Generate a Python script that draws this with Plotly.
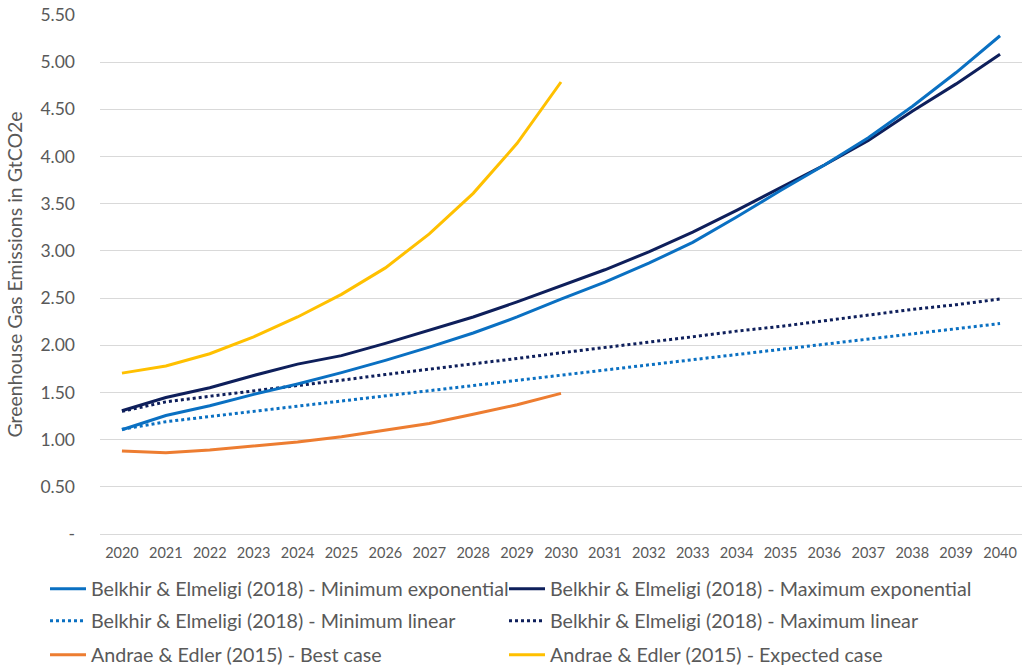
import plotly.graph_objects as go

years = [str(y) for y in range(2020, 2041)]
years_to_2030 = years[:11]

min_exponential = [1.105, 1.256, 1.36, 1.48, 1.59, 1.71, 1.84, 1.98, 2.13, 2.30, 2.49,
                   2.67, 2.87, 3.09, 3.36, 3.64, 3.91, 4.20, 4.53, 4.89, 5.28]
max_exponential = [1.306, 1.446, 1.55, 1.68, 1.80, 1.89, 2.02, 2.16, 2.30, 2.46, 2.63,
                   2.80, 2.99, 3.20, 3.43, 3.67, 3.91, 4.17, 4.48, 4.77, 5.085]
min_linear = [1.11, 1.19, 1.245, 1.30, 1.355, 1.41, 1.465, 1.52, 1.57, 1.63, 1.68,
              1.74, 1.79, 1.85, 1.90, 1.96, 2.01, 2.07, 2.12, 2.18, 2.23]
max_linear = [1.30, 1.40, 1.46, 1.515, 1.57, 1.63, 1.69, 1.745, 1.80, 1.86, 1.92,
              1.975, 2.03, 2.09, 2.15, 2.20, 2.26, 2.32, 2.38, 2.43, 2.49]
best_case = [0.88, 0.86, 0.89, 0.93, 0.976, 1.03, 1.10, 1.17, 1.27, 1.37, 1.49]
expected_case = [1.705, 1.78, 1.91, 2.09, 2.30, 2.54, 2.82, 3.18, 3.61, 4.14, 4.79]

y_tick_vals = [0, 0.5, 1, 1.5, 2, 2.5, 3, 3.5, 4, 4.5, 5, 5.5]
y_tick_text = ["-", "0.50", "1.00", "1.50", "2.00", "2.50", "3.00", "3.50",
               "4.00", "4.50", "5.00", "5.50"]

names = [
    "Belkhir & Elmeligi (2018) - Minimum exponential",
    "Belkhir & Elmeligi (2018) - Maximum exponential",
    "Belkhir & Elmeligi (2018) - Minimum linear",
    "Belkhir & Elmeligi (2018) - Maximum linear",
    "Andrae & Edler (2015) - Best case",
    "Andrae & Edler (2015) - Expected case",
]

LIGHT = "#0A70C2"
DARK = "#0E1F5B"
ORANGE = "#ED7D31"
YELLOW = "#FFC000"
TXT = "#595959"
FONT = "Lato"

fig = go.Figure()
fig.add_trace(go.Scatter(x=years, y=min_linear, name=names[2], mode="lines",
                         line=dict(color=LIGHT, width=3, dash="dot"), legend="legend3"))
fig.add_trace(go.Scatter(x=years, y=max_linear, name=names[3], mode="lines",
                         line=dict(color=DARK, width=3, dash="dot"), legend="legend4"))
fig.add_trace(go.Scatter(x=years_to_2030, y=best_case, name=names[4], mode="lines",
                         line=dict(color=ORANGE, width=3), legend="legend5"))
fig.add_trace(go.Scatter(x=years_to_2030, y=expected_case, name=names[5], mode="lines",
                         line=dict(color=YELLOW, width=3), legend="legend6"))
fig.add_trace(go.Scatter(x=years, y=max_exponential, name=names[1], mode="lines",
                         line=dict(color=DARK, width=3), legend="legend2"))
fig.add_trace(go.Scatter(x=years, y=min_exponential, name=names[0], mode="lines",
                         line=dict(color=LIGHT, width=3), legend="legend"))

H = 670
W = 1028
leg_common = dict(orientation="h", xanchor="left", yanchor="middle",
                  xref="container", yref="container",
                  font=dict(family=FONT, size=19.7, color=TXT),
                  bgcolor="rgba(0,0,0,0)", itemwidth=36)
col_x = [45 / W, 504 / W]
row_y = [1 - 589 / H, 1 - 621 / H, 1 - 655 / H]

legends = {}
for i in range(6):
    key = "legend" if i == 0 else f"legend{i + 1}"
    legends[key] = dict(x=col_x[i % 2], y=row_y[i // 2], **leg_common)

fig.update_layout(
    width=W, height=H,
    margin=dict(l=100, r=6, t=15, b=136, autoexpand=False),
    paper_bgcolor="white", plot_bgcolor="white",
    font=dict(family=FONT, color=TXT),
    showlegend=True,
    xaxis=dict(type="category", range=[-0.5, 20.5], showgrid=False, showline=False,
               ticks="", tickfont=dict(family=FONT, size=14.5, color=TXT),
               ticklabelstandoff=8, automargin=False, fixedrange=True),
    yaxis=dict(range=[0, 5.5], tickvals=y_tick_vals, ticktext=y_tick_text,
               showgrid=True, gridcolor="#D9D9D9", gridwidth=1.3,
               zeroline=True, zerolinecolor="#D9D9D9", zerolinewidth=1.3,
               showline=False, ticks="", ticklabelstandoff=24, automargin=False,
               tickfont=dict(family=FONT, size=17.5, color=TXT),
               title=dict(text="Greenhouse Gas Emissions in GtCO2e",
                          font=dict(family=FONT, size=19.5, color=TXT), standoff=12)),
    **legends,
)

fig.write_html("out.html", config={"displayModeBar": False},
               post_script="document.body.style.margin='0px';")
